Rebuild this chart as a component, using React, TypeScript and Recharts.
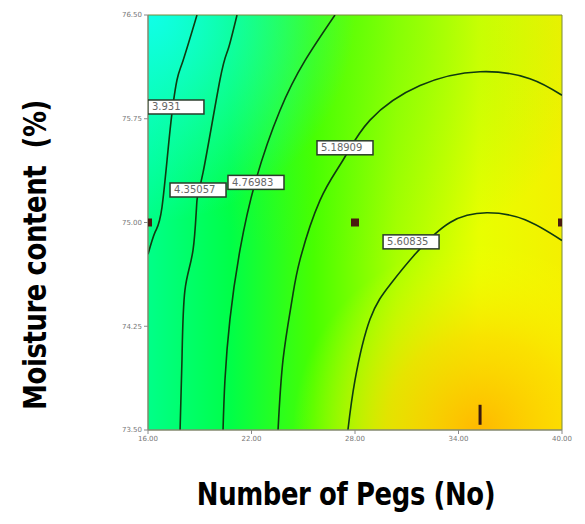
import React from 'react';
import { ComposedChart, Line, Scatter, XAxis, YAxis, ReferenceArea } from 'recharts';

// --- axes ---
const xTicks = [16, 22, 28, 34, 40];
const yTicks = [73.5, 74.25, 75, 75.75, 76.5];

// --- contour lines ---
const contour1 = [
  { x: 18.84, y: 76.5 }, { x: 18.03, y: 76.17 }, { x: 17.68, y: 76.03 }, { x: 17.28, y: 75.67 },
  { x: 16.81, y: 75.11 }, { x: 16.41, y: 74.93 }, { x: 16.0, y: 74.77 },
];
const contour2 = [
  { x: 21.16, y: 76.5 }, { x: 20.64, y: 76.25 }, { x: 20.17, y: 76.03 }, { x: 19.19, y: 75.36 },
  { x: 18.84, y: 75.16 }, { x: 18.61, y: 74.8 }, { x: 18.14, y: 74.51 }, { x: 17.97, y: 74.01 },
  { x: 17.86, y: 73.5 },
];
const contour3 = [
  { x: 26.84, y: 76.5 }, { x: 25.1, y: 76.17 }, { x: 23.65, y: 75.81 }, { x: 22.26, y: 75.31 },
  { x: 21.33, y: 74.8 }, { x: 20.75, y: 74.3 }, { x: 20.46, y: 73.86 }, { x: 20.35, y: 73.5 },
];
const contour4 = [
  { x: 23.54, y: 73.5 }, { x: 23.83, y: 74.01 }, { x: 24.35, y: 74.44 }, { x: 24.81, y: 74.73 },
  { x: 25.97, y: 75.16 }, { x: 27.3, y: 75.45 }, { x: 28.87, y: 75.74 }, { x: 31.77, y: 75.99 },
  { x: 35.25, y: 76.09 }, { x: 38.14, y: 76.04 }, { x: 40, y: 75.92 },
];
const contour5 = [
  { x: 27.59, y: 73.5 }, { x: 28.0, y: 73.86 }, { x: 28.87, y: 74.3 }, { x: 30.03, y: 74.55 },
  { x: 31.48, y: 74.77 }, { x: 33.51, y: 75.0 }, { x: 35.65, y: 75.07 }, { x: 37.86, y: 75.02 },
  { x: 40, y: 74.87 },
];
const contours = [contour1, contour2, contour3, contour4, contour5];

// --- contour labels ---
const contourLabels = [
  { x: 17.62, y: 75.835, text: '3.931' },
  { x: 18.9, y: 75.235, text: '4.35057' },
  { x: 22.26, y: 75.29, text: '4.76983' },
  { x: 27.42, y: 75.54, text: '5.18909' },
  { x: 31.25, y: 74.86, text: '5.60835' },
];

// --- design points ---
const designPoints = [
  { x: 16, y: 75 },
  { x: 28, y: 75 },
  { x: 40, y: 75 },
];
const tickPoints = [{ x: 35.25, y: 73.61 }];

const LabelBox = (props: any) => {
  const { cx, cy, payload } = props;
  const w = 56;
  const h = 14;
  return (
    <g>
      <rect x={cx - w / 2} y={cy - h / 2} width={w} height={h} fill="#ffffff" stroke="#2a3a2a" strokeWidth={1.5} />
      <text x={cx - w / 2 + 4} y={cy + 3.5} fontSize={10} fill="#666" fontFamily="DejaVu Sans">{payload.text}</text>
    </g>
  );
};

const DesignSquare = (props: any) => {
  const { cx, cy } = props;
  return <rect x={cx - 4} y={cy - 4} width={8} height={8} fill="#4a1a10" />;
};

const TickMark = (props: any) => {
  const { cx, cy } = props;
  return <rect x={cx - 1.5} y={cy - 10} width={3} height={20} fill="#3a1a10" />;
};

const tickStyle = { fill: '#777', fontSize: 7, fontFamily: 'DejaVu Sans' };

const titleFont: React.CSSProperties = {
  fontFamily: '"DejaVu Sans", sans-serif',
  fontWeight: 'bold',
  fontSize: 32,
  color: '#000',
  whiteSpace: 'nowrap',
  letterSpacing: -0.5,
};

export default function App() {
  return (
    <div style={{ position: 'absolute', left: 0, top: 0, width: 585, height: 524, background: '#fff' }}>
      <ComposedChart width={585} height={524} margin={{ top: 15, right: 23, left: 108, bottom: 74 }}>
        <defs>
          <linearGradient id="bgH" x1="0" y1="0" x2="1" y2="0">
            <stop offset="0" stopColor="#00ff88" />
            <stop offset="0.2" stopColor="#00ff48" />
            <stop offset="0.4" stopColor="#48ff00" />
            <stop offset="0.6" stopColor="#a8ff00" />
            <stop offset="0.8" stopColor="#e8ff00" />
            <stop offset="1" stopColor="#f4f000" />
          </linearGradient>
          <radialGradient id="bgCyan" cx="0" cy="0" r="0.5">
            <stop offset="0" stopColor="#10ffe8" stopOpacity="1" />
            <stop offset="1" stopColor="#10ffe8" stopOpacity="0" />
          </radialGradient>
          <radialGradient id="bgTop" cx="0.5" cy="0" r="0.6">
            <stop offset="0" stopColor="#40ff10" stopOpacity="0.4" />
            <stop offset="1" stopColor="#40ff10" stopOpacity="0" />
          </radialGradient>
          <radialGradient id="bgOrange" cx="0.8" cy="1" r="0.45">
            <stop offset="0" stopColor="#ffb800" stopOpacity="1" />
            <stop offset="0.5" stopColor="#ffd800" stopOpacity="0.7" />
            <stop offset="1" stopColor="#ffff00" stopOpacity="0" />
          </radialGradient>
        </defs>
        <XAxis
          type="number"
          dataKey="x"
          domain={[16, 40]}
          ticks={xTicks}
          tickFormatter={(v) => v.toFixed(2)}
          tick={tickStyle}
          stroke="#888"
          tickSize={4}
          height={20}
          allowDataOverflow
        />
        <YAxis
          type="number"
          dataKey="y"
          domain={[73.5, 76.5]}
          ticks={yTicks}
          tickFormatter={(v) => v.toFixed(2)}
          tick={tickStyle}
          stroke="#888"
          tickSize={4}
          width={40}
          allowDataOverflow
        />
        <ReferenceArea x1={16} x2={40} y1={73.5} y2={76.5} fill="url(#bgH)" fillOpacity={1} stroke="none" />
        <ReferenceArea x1={16} x2={40} y1={73.5} y2={76.5} fill="url(#bgTop)" fillOpacity={1} stroke="none" />
        <ReferenceArea x1={16} x2={40} y1={73.5} y2={76.5} fill="url(#bgCyan)" fillOpacity={1} stroke="none" />
        <ReferenceArea x1={16} x2={40} y1={73.5} y2={76.5} fill="url(#bgOrange)" fillOpacity={1} stroke="#7a8a3a" strokeWidth={1} />
        {contours.map((c, i) => (
          <Line
            key={i}
            data={c}
            dataKey="y"
            type="natural"
            stroke="#0f3a10"
            strokeWidth={1.6}
            dot={false}
            isAnimationActive={false}
          />
        ))}
        <Scatter data={designPoints} shape={<DesignSquare />} isAnimationActive={false} />
        <Scatter data={tickPoints} shape={<TickMark />} isAnimationActive={false} />
        <Scatter data={contourLabels} shape={<LabelBox />} isAnimationActive={false} />
      </ComposedChart>
      <div style={{ position: 'absolute', left: 346, top: 494, width: 0, height: 0 }}>
        <div style={{ ...titleFont, position: 'absolute', left: 0, top: 0, transform: 'translate(-50%, -50%) scale(0.81, 1)' }}>
          Number of Pegs (No)
        </div>
      </div>
      <div style={{ position: 'absolute', left: 35, top: 255, width: 0, height: 0 }}>
        <div style={{ ...titleFont, position: 'absolute', left: 0, top: 0, transform: 'translate(-50%, -50%) rotate(-90deg) scale(0.81, 1)' }}>
          Moisture content&nbsp;&nbsp;(%)
        </div>
      </div>
    </div>
  );
}
